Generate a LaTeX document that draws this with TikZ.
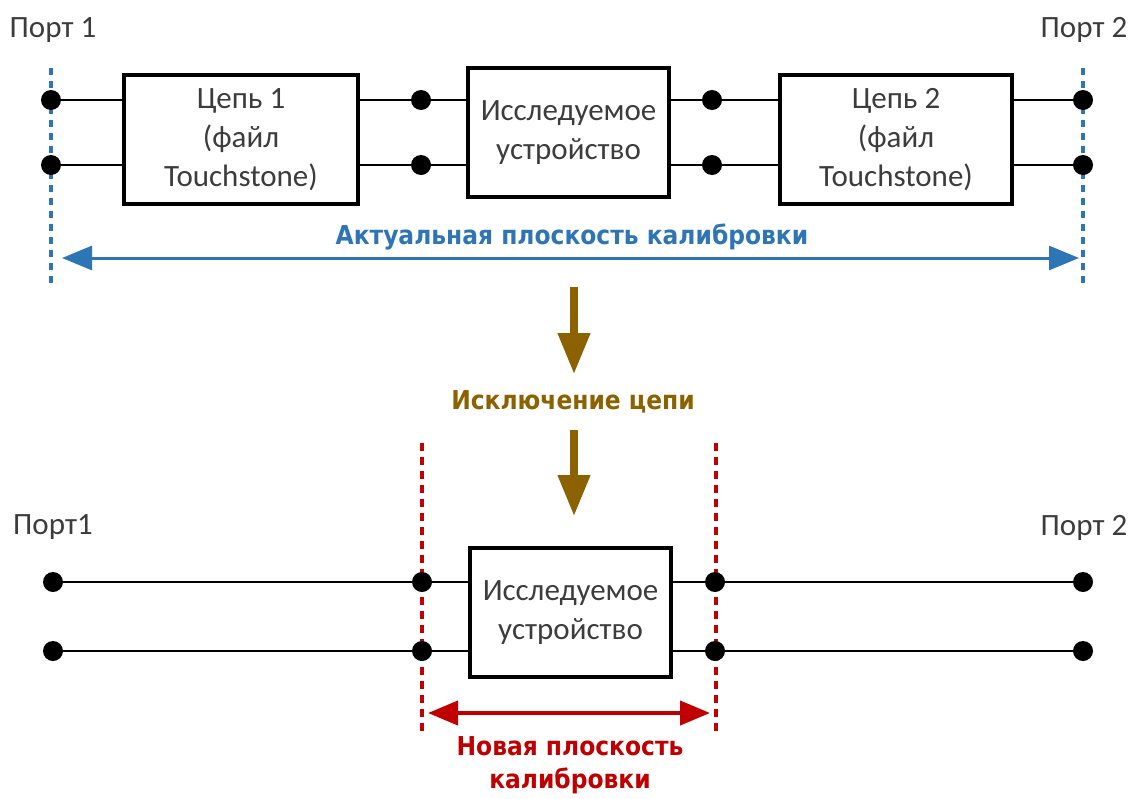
\documentclass[tikz,border=0pt]{standalone}
\usepackage{fontspec}
\setmainfont{Carlito}
\newfontfamily\labelfont{DejaVu Sans Condensed}
\usetikzlibrary{arrows.meta}
\definecolor{txtgray}{HTML}{3C3C3C}
\definecolor{calblue}{HTML}{2E75B6}
\definecolor{goldbrown}{HTML}{8C6100}
\definecolor{newred}{HTML}{C00000}
\begin{document}
\begin{tikzpicture}[x=1pt,y=-1pt,
  dot/.style={circle,fill=black,inner sep=0pt,minimum size=20pt},
  blockbox/.style={draw=black,line width=3.2pt,inner sep=0pt,align=center,text=txtgray,
    font=\fontsize{31}{39}\selectfont},
  wire/.style={line width=1.6pt},
  porttxt/.style={text=txtgray,font=\fontsize{31}{34}\selectfont,inner sep=0pt},
  bluedash/.style={calblue,line width=3.8pt,dash pattern=on 7pt off 6pt},
  reddash/.style={newred,line width=3.5pt,dash pattern=on 8pt off 6pt},
  boldlabel/.style={font=\labelfont\bfseries\fontsize{26}{33}\selectfont,inner sep=0pt,align=center},
  bigarrow/.style={goldbrown,line width=7.5pt,-{Triangle[length=41pt,width=31pt]}}
]
\useasboundingbox (0,0) rectangle (1131,798);

% ---------- top section ----------
\node[porttxt] (p1) at (53,30) {Порт 1};
\node[porttxt] (p2) at (1084,30) {Порт 2};

\coordinate (bl1t) at (51,68);
\coordinate (bl1b) at (51,285);
\coordinate (bl2t) at (1083,68);
\coordinate (bl2b) at (1083,285);
\draw[bluedash] (bl1t) -- (bl1b);
\draw[bluedash] (bl2t) -- (bl2b);

\node[blockbox,minimum width=234pt,minimum height=129pt] (c1) at (241,139.5) {Цепь 1\\(файл\\Touchstone)};
\node[blockbox,minimum width=201pt,minimum height=129pt] (dut1) at (568.5,132.5) {Исследуемое\\устройство};
\node[blockbox,minimum width=232pt,minimum height=129pt] (c2) at (896,139.5) {Цепь 2\\(файл\\Touchstone)};

\node[dot] (d1) at (51,100) {};
\node[dot] (d2) at (51,165) {};
\node[dot] (d3) at (421,100) {};
\node[dot] (d4) at (421,165) {};
\node[dot] (d5) at (712,100) {};
\node[dot] (d6) at (712,165) {};
\node[dot] (d7) at (1083,100) {};
\node[dot] (d8) at (1083,165) {};

\draw[wire] (d1) -- (d1 -| c1.west);
\draw[wire] (d2) -- (d2 -| c1.west);
\draw[wire] (d3 -| c1.east) -- (d3) -- (d3 -| dut1.west);
\draw[wire] (d4 -| c1.east) -- (d4) -- (d4 -| dut1.west);
\draw[wire] (d5 -| dut1.east) -- (d5) -- (d5 -| c2.west);
\draw[wire] (d6 -| dut1.east) -- (d6) -- (d6 -| c2.west);
\draw[wire] (d7 -| c2.east) -- (d7);
\draw[wire] (d8 -| c2.east) -- (d8);

\node[boldlabel,text=calblue] (lbl1) at (572,237) {Актуальная плоскость калибровки};
\coordinate (ba1) at (62,258);
\coordinate (ba2) at (1079,258);
\draw[calblue,line width=3pt,{Triangle[length=30pt,width=24pt]}-{Triangle[length=30pt,width=24pt]}] (ba1) -- (ba2);

% ---------- middle ----------
\coordinate (ga1) at (574,287);
\coordinate (ga2) at (574,374);
\draw[bigarrow] (ga1) -- (ga2);
\node[boldlabel,text=goldbrown] (lbl2) at (573,402) {Исключение цепи};
\coordinate (ga3) at (574,430);
\coordinate (ga4) at (574,516);
\draw[bigarrow] (ga3) -- (ga4);

% ---------- bottom section ----------
\node[porttxt] (p3) at (53,527) {Порт1};
\node[porttxt] (p4) at (1084,528) {Порт 2};

\coordinate (rl1t) at (422,443);
\coordinate (rl1b) at (422,733);
\coordinate (rl2t) at (716,443);
\coordinate (rl2b) at (716,733);
\draw[reddash] (rl1t) -- (rl1b);
\draw[reddash] (rl2t) -- (rl2b);

\node[blockbox,minimum width=201pt,minimum height=129pt] (dut2) at (570.5,612.5) {Исследуемое\\устройство};

\node[dot] (e1) at (53,582) {};
\node[dot] (e2) at (53,651) {};
\node[dot] (e3) at (422,582) {};
\node[dot] (e4) at (422,651) {};
\node[dot] (e5) at (715,582) {};
\node[dot] (e6) at (715,651) {};
\node[dot] (e7) at (1083,582) {};
\node[dot] (e8) at (1083,651) {};

\draw[wire] (e1) -- (e3) -- (e3 -| dut2.west);
\draw[wire] (e2) -- (e4) -- (e4 -| dut2.west);
\draw[wire] (e5 -| dut2.east) -- (e5) -- (e7);
\draw[wire] (e6 -| dut2.east) -- (e6) -- (e8);

\coordinate (ra1) at (428,713);
\coordinate (ra2) at (710,713);
\draw[newred,line width=4pt,{Triangle[length=30pt,width=24pt]}-{Triangle[length=30pt,width=24pt]}] (ra1) -- (ra2);
\node[boldlabel,text=newred] (lbl3) at (570,765) {Новая плоскость\\калибровки};
\end{tikzpicture}
\end{document}
